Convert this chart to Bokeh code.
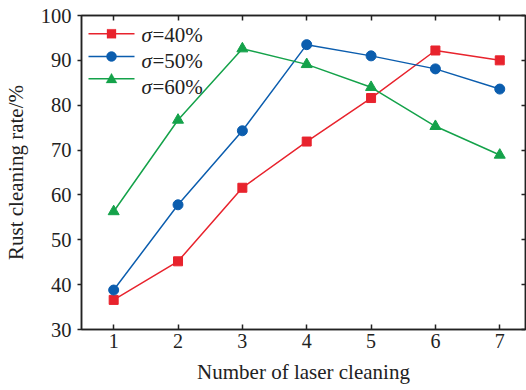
import numpy as np
from bokeh.plotting import figure
from bokeh.models import (Range1d, LinearAxis, Label, Arrow,
                          PolyAnnotation, FixedTicker, CustomJSTickFormatter)
from bokeh.embed import file_html
from bokeh.resources import INLINE

# ---- data ----
passes = [1, 2, 3, 4, 5, 6, 7]
rate_40 = [36.6, 45.2, 61.6, 71.9, 81.6, 92.2, 90.0]
rate_50 = [38.8, 57.8, 74.3, 93.5, 91.0, 88.1, 83.6]
rate_60 = [56.3, 76.7, 92.6, 89.1, 84.0, 75.3, 68.9]
legend_values = ["=40%", "=50%", "=60%"]
y_ticks = [30, 40, 50, 60, 70, 80, 90, 100]

RED = "#E8232D"
BLUE = "#0B5DAE"
GREEN = "#14A24A"
FONT = "Liberation Serif"
INK = "#222222"

p = figure(width=526, height=390, output_backend="svg", toolbar_location=None,
           x_range=Range1d(0.5, 7.4), y_range=Range1d(30, 100),
           min_border_left=80, min_border_right=1, min_border_top=15,
           min_border_bottom=61)
p.background_fill_color = "white"
p.border_fill_color = "white"
p.outline_line_color = INK
p.outline_line_width = 1.5
p.xgrid.visible = False
p.ygrid.visible = False

# bottom axis
xa = p.xaxis[0]
xa.ticker = FixedTicker(ticks=passes)
xa.axis_label = "Number of laser cleaning"
xa.axis_label_text_font = FONT
xa.axis_label_text_font_style = "normal"
xa.axis_label_text_font_size = "21px"
xa.axis_label_text_color = INK
xa.axis_label_standoff = 9
xa.major_label_text_font = FONT
xa.major_label_text_font_size = "20px"
xa.major_label_text_color = INK
xa.major_label_standoff = 4
xa.major_tick_in = 5
xa.major_tick_out = 0
xa.minor_tick_line_color = None
xa.axis_line_width = 1.5
xa.axis_line_color = INK
xa.major_tick_line_color = INK
xa.major_tick_line_width = 1.5

# left axis
ya = p.yaxis[0]
ya.ticker = FixedTicker(ticks=y_ticks)
ya.axis_label = "Rust cleaning rate/%"
ya.axis_label_text_font = FONT
ya.axis_label_text_font_style = "normal"
ya.axis_label_text_font_size = "21px"
ya.axis_label_text_color = INK
ya.axis_label_standoff = 10
ya.major_label_text_font = FONT
ya.major_label_text_font_size = "20.5px"
ya.major_label_text_color = INK
ya.major_label_standoff = 6
ya.major_label_orientation = "horizontal"
ya.major_tick_in = 0
ya.major_tick_out = 4
ya.minor_tick_line_color = None
ya.axis_line_width = 1.5
ya.axis_line_color = INK
ya.major_tick_line_color = INK
ya.major_tick_line_width = 1.5

blank = CustomJSTickFormatter(code="return ''")
top = LinearAxis(ticker=FixedTicker(ticks=passes), formatter=blank,
                 major_tick_in=5, major_tick_out=0, minor_tick_line_color=None,
                 major_label_standoff=0, axis_line_width=1.5,
                 axis_line_color=INK, major_tick_line_color=INK,
                 major_tick_line_width=1.5)
right = LinearAxis(ticker=FixedTicker(ticks=y_ticks), formatter=blank,
                   major_tick_in=4, major_tick_out=0, minor_tick_line_color=None,
                   major_label_standoff=0, axis_line_width=1.5,
                   axis_line_color=INK, major_tick_line_color=INK,
                   major_tick_line_width=1.5)
p.add_layout(top, "above")
p.add_layout(right, "right")

p.line(passes, rate_40, line_color=RED, line_width=1.5)
p.scatter(passes, rate_40, marker="square", size=9, fill_color=RED, line_color=RED)
p.line(passes, rate_50, line_color=BLUE, line_width=1.5)
p.scatter(passes, rate_50, marker="circle", size=10, fill_color=BLUE, line_color=BLUE)
p.line(passes, rate_60, line_color=GREEN, line_width=1.5)
p.scatter(passes, rate_60, marker="triangle", size=11, fill_color=GREEN, line_color=GREEN)

# ---- hand-built legend (screen units, relative to the plot frame) ----
colors = [RED, BLUE, GREEN]
line_y = [295.7, 273.0, 250.7]
text_mid = [294.5, 269.0, 242.7]
mx = 30
for i in range(3):
    c = colors[i]
    p.add_layout(Arrow(end=None, start=None, x_start=7, x_end=53,
                       y_start=line_y[i], y_end=line_y[i],
                       start_units="screen", end_units="screen",
                       line_color=c, line_width=1.5))
    cy = line_y[i]
    if i == 0:
        h = 4.5
        p.add_layout(PolyAnnotation(xs=[mx - h, mx + h, mx + h, mx - h],
                                    ys=[cy - h, cy - h, cy + h, cy + h],
                                    xs_units="screen", ys_units="screen",
                                    fill_color=c, fill_alpha=1, line_color=c))
    elif i == 1:
        t = np.linspace(0, 2 * np.pi, 33)[:-1]
        r = 5
        p.add_layout(PolyAnnotation(xs=list(mx + r * np.cos(t)), ys=list(cy + r * np.sin(t)),
                                    xs_units="screen", ys_units="screen",
                                    fill_color=c, fill_alpha=1, line_color=c))
    else:
        s = 5.5
        p.add_layout(PolyAnnotation(xs=[mx - s, mx + s, mx],
                                    ys=[cy - s * 0.75, cy - s * 0.75, cy + s * 1.0],
                                    xs_units="screen", ys_units="screen",
                                    fill_color=c, fill_alpha=1, line_color=c))
    p.add_layout(Label(x=60, y=text_mid[i], x_units="screen", y_units="screen",
                       text="σ", text_font=FONT, text_font_style="italic",
                       text_font_size="21px", text_color=INK,
                       text_baseline="middle"))
    p.add_layout(Label(x=71, y=text_mid[i], x_units="screen", y_units="screen",
                       text=legend_values[i], text_font=FONT,
                       text_font_size="21px", text_color=INK,
                       text_baseline="middle"))

open("out.html", "w").write(file_html(p, INLINE))
